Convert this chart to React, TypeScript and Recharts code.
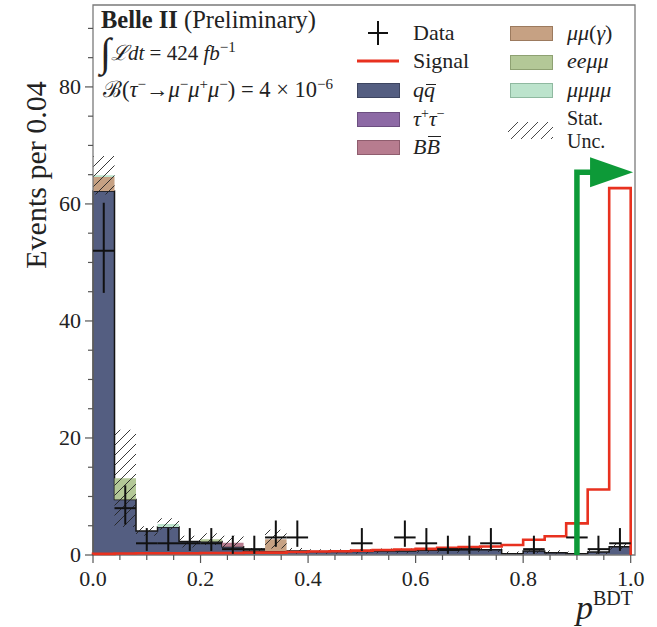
import React from 'react';
import {
  Area,
  ComposedChart,
  ErrorBar,
  Line,
  ReferenceArea,
  Scatter,
  XAxis,
  YAxis,
} from 'recharts';

// bin edges of p_BDT, width 0.04
const binEdges = [
  0, 0.04, 0.08, 0.12, 0.16, 0.2, 0.24, 0.28, 0.32, 0.36, 0.4, 0.44, 0.48, 0.52, 0.56, 0.6, 0.64,
  0.68, 0.72, 0.76, 0.8, 0.84, 0.88, 0.92, 0.96, 1.0,
];

// stacked background components, one value per bin
const qqCounts = [
  62.2, 9.5, 4.1, 4.8, 2.3, 2.3, 1.4, 0.7, 0.7, 0.7, 0.6, 0.6, 0.6, 0.7, 0.7, 0.8, 0.8, 0.9, 0.9,
  0.2, 0.7, 0.4, 0.2, 0.5, 1.4,
];
const tautauCounts = [
  0, 0, 0, 0, 0, 0, 0, 0, 0, 0, 0, 0, 0, 0, 0, 0, 0, 0, 0, 0, 0, 0, 0, 0, 0,
];
const bbCounts = [
  0, 0, 0, 0, 0, 0, 0.7, 0, 0, 0, 0, 0, 0, 0, 0, 0, 0, 0, 0, 0, 0, 0, 0, 0, 0,
];
const mumuGammaCounts = [
  2.4, 0, 0, 0, 0, 0, 0, 0, 2.0, 0, 0, 0, 0, 0, 0, 0, 0, 0, 0, 0, 0, 0, 0, 0, 0,
];
const eemumuCounts = [
  0, 3.6, 0, 0, 0, 0.4, 0, 0, 0, 0, 0, 0, 0, 0, 0, 0, 0, 0, 0, 0, 0, 0, 0, 0, 0,
];
const mumumumuCounts = [
  0.3, 0, 0, 0.5, 0, 0, 0, 0, 0, 0, 0, 0, 0, 0, 0, 0, 0, 0, 0, 0, 0, 0, 0, 0, 0,
];
const statUnc = [
  3.3, 8.3, 0.8, 1.0, 1.0, 1.0, 1.2, 0.5, 1.6, 0.5, 0.4, 0.4, 0.4, 0.4, 0.4, 0.4, 0.4, 0.4, 0.4,
  0.4, 0.4, 0.4, 0.4, 0.4, 0.5,
];

// signal (B = 4e-6)
const signalCounts = [
  0.2, 0.25, 0.3, 0.3, 0.3, 0.35, 0.35, 0.4, 0.4, 0.5, 0.6, 0.65, 0.75, 0.85, 0.95, 1.05, 1.25,
  1.35, 1.45, 1.7, 2.6, 3.2, 5.4, 11.2, 62.7,
];

// observed data with asymmetric errors
const dataCounts = [52, 8, 2, 2, 2, 2, 1, 1, 3, 3, 0, 0, 2, 0, 3, 2, 1, 1, 2, 0, 1, 0, 3, 1, 2];
const dataErrLow = [
  7.2, 2.8, 1.3, 1.3, 1.3, 1.3, 0.8, 0.8, 1.6, 1.6, 0, 0, 1.3, 0, 1.6, 1.3, 0.8, 0.8, 1.3, 0, 0.8,
  0, 1.6, 0.8, 1.3,
];
const dataErrHigh = [
  8.2, 3.9, 2.6, 2.6, 2.6, 2.6, 2.3, 2.3, 2.9, 2.9, 0, 0, 2.6, 0, 2.9, 2.6, 2.3, 2.3, 2.6, 0, 2.3,
  0, 2.9, 2.3, 2.6,
];

// cut arrow
const cutValue = 0.9;
const arrowHeight = 65.4;
const arrowEnd = 0.93;

const xMajorTicks = [0, 0.2, 0.4, 0.6, 0.8, 1.0];
const xTickLabels = ['0.0', '0.2', '0.4', '0.6', '0.8', '1.0'];
const xMinorTicks = [0.05, 0.1, 0.15, 0.25, 0.3, 0.35, 0.45, 0.5, 0.55, 0.65, 0.7, 0.75, 0.85, 0.9, 0.95];
const yMajorTicks = [0, 20, 40, 60, 80];
const yTickLabels = ['0', '20', '40', '60', '80'];
const yMinorTicks = [5, 10, 15, 25, 30, 35, 45, 50, 55, 65, 70, 75, 85, 90];

const COLORS = {
  qq: '#545e81',
  tautau: '#8d6aa5',
  bb: '#b77c8f',
  mumuGamma: '#c6a183',
  eemumu: '#b3c897',
  mumumumu: '#bce3cc',
  signal: '#e8311f',
  cut: '#0d9a38',
  frame: '#7a7a7a',
};

const FONT = '"Liberation Serif", "DejaVu Serif", serif';

// histogram table: leading/trailing zero rows close the step outline
const emptyRow = {
  qq: 0,
  tautau: 0,
  bb: 0,
  mumuGamma: 0,
  eemumu: 0,
  mumumumu: 0,
  signal: 0,
  unc: [0, 0],
};
const histRows = [
  { x: binEdges[0], ...emptyRow },
  ...qqCounts.map((_, i) => {
    const total =
      qqCounts[i] + tautauCounts[i] + bbCounts[i] + mumuGammaCounts[i] + eemumuCounts[i] + mumumumuCounts[i];
    return {
      x: binEdges[i],
      qq: qqCounts[i],
      tautau: tautauCounts[i],
      bb: bbCounts[i],
      mumuGamma: mumuGammaCounts[i],
      eemumu: eemumuCounts[i],
      mumumumu: mumumumuCounts[i],
      signal: signalCounts[i],
      unc: [Math.max(0, total - statUnc[i]), total + statUnc[i]],
    };
  }),
  { x: binEdges[binEdges.length - 1], ...emptyRow },
];

const dataPoints = dataCounts
  .map((n, i) => ({
    x: (binEdges[i] + binEdges[i + 1]) / 2,
    y: n,
    xErr: (binEdges[i + 1] - binEdges[i]) / 2,
    yErr: [dataErrLow[i], dataErrHigh[i]],
  }))
  .filter(p => p.y > 0);

const arrowPoints = [
  { x: cutValue, y: 0 },
  { x: cutValue, y: arrowHeight },
  { x: arrowEnd, y: arrowHeight },
];

const isIn = (arr: number[], v: number) => arr.findIndex(m => Math.abs(m - v) < 1e-9);

function XTick({ x, y, payload }: any) {
  const idx = isIn(xMajorTicks, payload.value);
  const major = idx >= 0;
  return (
    <g>
      <line x1={x} x2={x} y1={y} y2={y + (major ? 8 : 5)} stroke="#555" strokeWidth={1.2} />
      {major && (
        <text x={x} y={y + 31} textAnchor="middle" fontFamily={FONT} fontSize={22} fill="#222">
          {xTickLabels[idx]}
        </text>
      )}
    </g>
  );
}

function YTick({ x, y, payload }: any) {
  const idx = isIn(yMajorTicks, payload.value);
  const major = idx >= 0;
  return (
    <g>
      <line x1={x} x2={x - (major ? 8 : 5)} y1={y} y2={y} stroke="#555" strokeWidth={1.2} />
      {major && (
        <text x={x - 12} y={y + 7} textAnchor="end" fontFamily={FONT} fontSize={22} fill="#222">
          {yTickLabels[idx]}
        </text>
      )}
    </g>
  );
}

function ArrowHead(props: any) {
  const { cx, cy, index } = props;
  if (index !== arrowPoints.length - 1) return <g key={`a${index}`} />;
  return (
    <polygon
      key={`a${index}`}
      points={`${cx - 3},${cy - 15} ${cx + 40},${cy} ${cx - 3},${cy + 15}`}
      fill={COLORS.cut}
    />
  );
}

function HatchDefs() {
  return (
    <defs>
      <pattern id="hatch" patternUnits="userSpaceOnUse" width={10} height={10}>
        <path d="M0,10 L10,0 M-2,2 L2,-2 M8,12 L12,8" stroke="#222" strokeWidth={0.9} />
      </pattern>
    </defs>
  );
}

const LegendBox = ({ left, top, color, edge }: { left: number; top: number; color: string; edge: string }) => (
  <div
    style={{
      position: 'absolute',
      left,
      top,
      width: 41,
      height: 13,
      background: color,
      border: `1px solid ${edge}`,
    }}
  />
);

const LegendLabel = ({
  left,
  center,
  size = 26,
  fontSize = 22,
  children,
}: {
  left: number;
  center: number;
  size?: number;
  fontSize?: number;
  children: React.ReactNode;
}) => (
  <div
    style={{
      position: 'absolute',
      left,
      top: center - size / 2,
      height: size,
      lineHeight: `${size}px`,
      fontFamily: FONT,
      fontSize,
      color: '#222',
      whiteSpace: 'nowrap',
    }}
  >
    {children}
  </div>
);

const it = (s: string) => <span style={{ fontStyle: 'italic' }}>{s}</span>;
// italic letter with a bar drawn above it
const bar = (s: string, barTop: number) => (
  <span style={{ fontStyle: 'italic', position: 'relative', display: 'inline-block' }}>
    {s}
    <span style={{ position: 'absolute', left: 2, right: -1, top: barTop, borderTop: '1.4px solid #222' }} />
  </span>
);
const sup = (s: string) => (
  <span style={{ fontSize: 14, position: 'relative', top: -8 }}>{s}</span>
);

export default function App() {
  return (
    <div style={{ position: 'absolute', left: 0, top: 0, width: 657, height: 627, background: '#fff' }}>
      <ComposedChart width={657} height={627} data={histRows} margin={{ top: 5, right: 22, left: 0, bottom: 0 }}>
        <HatchDefs />
        <XAxis
          dataKey="x"
          type="number"
          domain={[0, 1.008]}
          ticks={[...xMajorTicks, ...xMinorTicks].sort((a, b) => a - b)}
          tick={<XTick />}
          tickLine={false}
          tickSize={0}
          tickMargin={0}
          axisLine={false}
          height={72}
          interval={0}
        />
        <YAxis
          type="number"
          domain={[0, 94]}
          ticks={[...yMajorTicks, ...yMinorTicks].sort((a, b) => a - b)}
          tick={<YTick />}
          tickLine={false}
          tickSize={0}
          tickMargin={0}
          axisLine={false}
          width={93}
          interval={0}
        />
        <Area dataKey="qq" stackId="bkg" type="stepAfter" fill={COLORS.qq} fillOpacity={1} stroke="#151515" strokeWidth={1.5} isAnimationActive={false} />
        <Area dataKey="tautau" stackId="bkg" type="stepAfter" fill={COLORS.tautau} fillOpacity={1} stroke="none" isAnimationActive={false} />
        <Area dataKey="bb" stackId="bkg" type="stepAfter" fill={COLORS.bb} fillOpacity={1} stroke="none" isAnimationActive={false} />
        <Area dataKey="mumuGamma" stackId="bkg" type="stepAfter" fill={COLORS.mumuGamma} fillOpacity={1} stroke="none" isAnimationActive={false} />
        <Area dataKey="eemumu" stackId="bkg" type="stepAfter" fill={COLORS.eemumu} fillOpacity={1} stroke="none" isAnimationActive={false} />
        <Area dataKey="mumumumu" stackId="bkg" type="stepAfter" fill={COLORS.mumumumu} fillOpacity={1} stroke="none" isAnimationActive={false} />
        <Area dataKey="unc" type="stepAfter" fill="url(#hatch)" fillOpacity={1} stroke="none" isAnimationActive={false} />
        <Line dataKey="signal" type="stepAfter" stroke={COLORS.signal} strokeWidth={2.6} dot={false} isAnimationActive={false} />
        <Scatter data={dataPoints} dataKey="y" shape={() => <g />} isAnimationActive={false}>
          <ErrorBar dataKey="xErr" direction="x" width={0} stroke="#111" strokeWidth={2} />
          <ErrorBar dataKey="yErr" direction="y" width={0} stroke="#111" strokeWidth={2} />
        </Scatter>
        <Line
          data={arrowPoints}
          dataKey="y"
          type="linear"
          stroke={COLORS.cut}
          strokeWidth={5.5}
          strokeLinejoin="miter"
          dot={ArrowHead}
          isAnimationActive={false}
        />
        <ReferenceArea x1={0} x2={1.008} y1={0} y2={94} fill="none" stroke={COLORS.frame} strokeWidth={1.3} />
      </ComposedChart>

      {/* axis titles */}
      <div
        style={{
          position: 'absolute',
          left: 36,
          top: 175,
          transform: 'translate(-50%, -50%) rotate(-90deg)',
          fontFamily: FONT,
          fontSize: 30,
          color: '#222',
          whiteSpace: 'nowrap',
        }}
      >
        Events per 0.04
      </div>
      <div
        style={{
          position: 'absolute',
          left: 576,
          top: 590,
          height: 36,
          lineHeight: '36px',
          fontFamily: FONT,
          color: '#222',
          whiteSpace: 'nowrap',
        }}
      >
        <span style={{ fontStyle: 'italic', fontSize: 34 }}>p</span>
        <span style={{ fontSize: 20, position: 'relative', top: -14 }}>BDT</span>
      </div>

      {/* experiment labels */}
      <div style={{ position: 'absolute', left: 101, top: 6, fontFamily: FONT, fontSize: 24.5, color: '#222', whiteSpace: 'nowrap' }}>
        <b>Belle II</b> (Preliminary)
      </div>
      <div style={{ position: 'absolute', left: 100, top: 29, fontFamily: FONT, color: '#222', whiteSpace: 'nowrap' }}>
        <span style={{ fontSize: 40, fontStyle: 'italic' }}>∫</span>
        <span style={{ fontSize: 21, position: 'relative', top: -6 }}>
          {it('ℒdt')} = 424 {it('fb')}
          <sup style={{ fontSize: 15 }}>−1</sup>
        </span>
      </div>
      <div style={{ position: 'absolute', left: 103, top: 73, fontFamily: FONT, fontSize: 22.5, color: '#222', whiteSpace: 'nowrap' }}>
        ℬ({it('τ')}
        <sup style={{ fontSize: 15 }}>−</sup>→{it('μ')}
        <sup style={{ fontSize: 15 }}>−</sup>
        {it('μ')}
        <sup style={{ fontSize: 15 }}>+</sup>
        {it('μ')}
        <sup style={{ fontSize: 15 }}>−</sup>) = 4 × 10<sup style={{ fontSize: 15 }}>−6</sup>
      </div>

      {/* legend, column 1 */}
      <svg style={{ position: 'absolute', left: 355, top: 18 }} width={50} height={150}>
        <line x1={13} x2={33} y1={15} y2={15} stroke="#111" strokeWidth={2} />
        <line x1={23} x2={23} y1={3} y2={27} stroke="#111" strokeWidth={2} />
        <line x1={2} x2={44} y1={43} y2={43} stroke={COLORS.signal} strokeWidth={3} />
      </svg>
      <LegendLabel left={413} center={33}>Data</LegendLabel>
      <LegendLabel left={413} center={61}>Signal</LegendLabel>
      <LegendBox left={357} top={83} color={COLORS.qq} edge="#3d4560" />
      <LegendLabel left={413} center={90}>
        {it('q')}
        {bar('q', 7)}
      </LegendLabel>
      <LegendBox left={357} top={112} color={COLORS.tautau} edge="#6c4f80" />
      <LegendLabel left={413} center={119}>
        {it('τ')}
        {sup('+')}
        {it('τ')}
        {sup('−')}
      </LegendLabel>
      <LegendBox left={357} top={140} color={COLORS.bb} edge="#8f5d6e" />
      <LegendLabel left={413} center={147}>
        {it('B')}
        {bar('B', 2)}
      </LegendLabel>

      {/* legend, column 2 */}
      <LegendBox left={510} top={26} color={COLORS.mumuGamma} edge="#9c7a5e" />
      <LegendLabel left={567} center={33}>
        {it('μμ')}({it('γ')})
      </LegendLabel>
      <LegendBox left={510} top={55} color={COLORS.eemumu} edge="#8ea172" />
      <LegendLabel left={567} center={61}>{it('eeμμ')}</LegendLabel>
      <LegendBox left={510} top={83} color={COLORS.mumumumu} edge="#8fb9a0" />
      <LegendLabel left={567} center={90}>{it('μμμμ')}</LegendLabel>
      <svg style={{ position: 'absolute', left: 508, top: 122 }} width={45} height={17}>
        <rect x={0} y={0} width={45} height={17} fill="url(#hatchLegend)" />
        <defs>
          <pattern id="hatchLegend" patternUnits="userSpaceOnUse" width={10} height={10}>
            <path d="M0,10 L10,0 M-2,2 L2,-2 M8,12 L12,8" stroke="#333" strokeWidth={0.9} />
          </pattern>
        </defs>
      </svg>
      <LegendLabel left={567} center={118} size={23} fontSize={20}>Stat.</LegendLabel>
      <LegendLabel left={567} center={141} size={23} fontSize={20}>Unc.</LegendLabel>
    </div>
  );
}
